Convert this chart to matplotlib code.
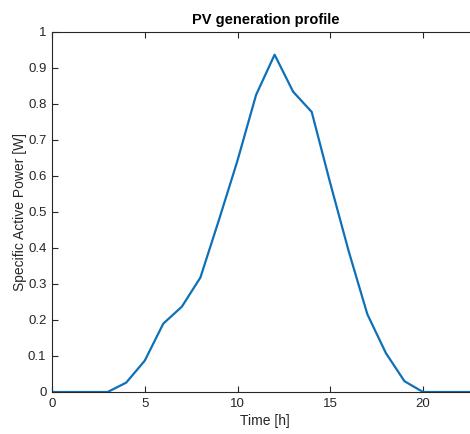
import numpy as np
import matplotlib
matplotlib.use("Agg")
import matplotlib.pyplot as plt

# hourly PV profile
hours = list(range(24))
power = [0, 0, 0, 0, 0.026, 0.087, 0.19, 0.237, 0.318, 0.478, 0.643, 0.825,
         0.937, 0.834, 0.778, 0.58, 0.39, 0.216, 0.108, 0.03, 0, 0, 0, 0]

x_ticks = [0, 5, 10, 15, 20]
y_ticks = [0, 0.1, 0.2, 0.3, 0.4, 0.5, 0.6, 0.7, 0.8, 0.9, 1]
y_labels = ["0", "0.1", "0.2", "0.3", "0.4", "0.5", "0.6", "0.7", "0.8", "0.9", "1"]

plt.rcParams['font.family'] = ['Liberation Sans', 'DejaVu Sans']
ax_col = (0.15, 0.15, 0.15)

fig = plt.figure(figsize=(4.7, 4.34), dpi=100)
fig.patch.set_facecolor("white")
# axes run a bit past the right edge, as in the cropped reference
ax = fig.add_axes([52/470, 42/434, (23*18.55)/470, 360/434])

ax.plot(hours, power, color=(0.05, 0.44, 0.72), linewidth=1.6)

ax.set_xlim(0, 23)
ax.set_ylim(0, 1)
ax.set_xticks(x_ticks)
ax.set_yticks(y_ticks)
ax.set_yticklabels(y_labels)
ax.tick_params(direction="in", top=True, right=True, length=4, width=0.8,
               colors=ax_col, labelsize=9.5, pad=4)
for s in ax.spines.values():
    s.set_color(ax_col)
    s.set_linewidth(0.8)

ax.set_title("PV generation profile", fontsize=10.5, fontweight="bold", pad=6)
ax.set_xlabel("Time [h]", fontsize=10, color=ax_col, labelpad=3)
ax.set_ylabel("Specific Active Power [W]", fontsize=10, color=ax_col, labelpad=1)

fig.savefig("out.png", dpi=100)
